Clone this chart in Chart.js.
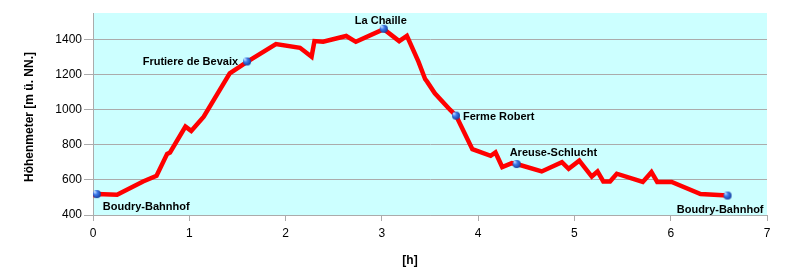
<!DOCTYPE html>
<html>
<head>
<meta charset="utf-8">
<script src="https://cdn.jsdelivr.net/npm/chart.js@4/dist/chart.umd.min.js"></script>
<style>
  html, body { margin: 0; padding: 0; background: #fff; }
  #wrap { width: 787px; height: 278px; }
</style>
</head>
<body>
<div id="wrap"><canvas id="profile"></canvas></div>
<script>
// Höhenprofil Boudry - La Chaille - Areuse-Schlucht - Boudry

const hours = [0, 0.04, 0.25, 0.52, 0.66, 0.77, 0.80, 0.96, 1.02, 1.15, 1.42, 1.60, 1.90, 2.15, 2.27, 2.30, 2.39, 2.63, 2.73, 3.02,
    3.18, 3.26, 3.38, 3.45, 3.47, 3.55, 3.71, 3.77, 3.94, 4.13, 4.18, 4.25, 4.35, 4.40, 4.66, 4.87, 4.94, 5.05, 5.18, 5.24,
    5.30, 5.37, 5.44, 5.71, 5.80, 5.86, 6.01, 6.31, 6.59];
const elevation = [510, 519, 515, 591, 623, 748, 756, 903, 879, 960, 1207, 1272, 1373, 1352, 1301, 1390, 1386, 1419, 1386, 1458,
    1390, 1420, 1273, 1173, 1159, 1093, 998, 966, 775, 737, 756, 673, 695, 690, 648, 701, 663, 709, 619, 648,
    591, 591, 635, 588, 644, 588, 588, 519, 511];

const stopNames = ['Boudry-Bahnhof', 'Frutiere de Bevaix', 'La Chaille', 'Ferme Robert', 'Areuse-Schlucht', 'Boudry-Bahnhof'];
const stopHours = [0.04, 1.60, 3.02, 3.77, 4.40, 6.59];
const stopElevation = [519, 1274, 1460, 966, 690, 511];

const yTicks = [400, 600, 800, 1000, 1200, 1400];
const xTicks = [0, 1, 2, 3, 4, 5, 6, 7];

const xTitle = '[h]';
const yTitle = 'Höhenmeter [m ü. NN.]';

// label placement relative to the marker: [dx, dy, textAlign]
const labelPlace = [[6, 13, 'left'], [-9, 0, 'right'], [-3, -8, 'center'], [7, 1, 'left'], [-7, -11, 'left'], [36, 14, 'right']];

const FONT = "'Liberation Sans', Arial, sans-serif";
const GRID = '#ABABAB';

// blue sphere marker
function sphere(r) {
    const c = document.createElement('canvas');
    c.width = c.height = r * 2 + 2;
    const g = c.getContext('2d');
    const grd = g.createRadialGradient(r * 0.7, r * 0.7, 0.5, r + 1, r + 1, r + 1);
    grd.addColorStop(0, '#B8D4FF');
    grd.addColorStop(0.35, '#3D7BEA');
    grd.addColorStop(1, '#0A2C8C');
    g.fillStyle = grd;
    g.beginPath();
    g.arc(r + 1, r + 1, r, 0, Math.PI * 2);
    g.fill();
    return c;
}

const areaBg = {
    id: 'areaBg',
    beforeDraw(chart) {
        const { ctx, chartArea: a } = chart;
        ctx.save();
        ctx.fillStyle = '#CCFFFF';
        ctx.fillRect(a.left, a.top, a.right - a.left, a.bottom - a.top);
        ctx.restore();
    }
};

const stopLabels = {
    id: 'stopLabels',
    afterDatasetsDraw(chart) {
        const { ctx } = chart;
        const xs = chart.scales.x, ys = chart.scales.y;
        ctx.save();
        ctx.font = 'bold 11px ' + FONT;
        ctx.fillStyle = '#000';
        ctx.textBaseline = 'middle';
        stopNames.forEach((name, i) => {
            const [dx, dy, align] = labelPlace[i];
            ctx.textAlign = align;
            ctx.fillText(name, xs.getPixelForValue(stopHours[i]) + dx, ys.getPixelForValue(stopElevation[i]) + dy);
        });

        // axis titles
        ctx.font = 'bold 12px ' + FONT;
        ctx.textAlign = 'center';
        ctx.fillText(xTitle, 410, 261);
        ctx.translate(30, 117);
        ctx.rotate(-Math.PI / 2);
        ctx.fillText(yTitle, 0, 0);
        ctx.restore();
    }
};

new Chart(document.getElementById('profile').getContext('2d'), {
    type: 'scatter',
    data: {
        datasets: [
            {
                label: 'Stationen',
                data: stopHours.map((h, i) => ({ x: h, y: stopElevation[i] })),
                pointStyle: sphere(4),
                pointRadius: 5,
                showLine: false
            },
            {
                label: 'Höhe',
                data: hours.map((h, i) => ({ x: h, y: elevation[i] })),
                showLine: true,
                borderColor: '#FF0000',
                borderWidth: 4.5,
                borderJoinStyle: 'miter',
                pointRadius: 0,
                tension: 0
            }
        ]
    },
    options: {
        responsive: true,
        maintainAspectRatio: false,
        animation: false,
        layout: { padding: { left: 0, right: 20, top: 13, bottom: 0 } },
        plugins: { legend: { display: false }, tooltip: { enabled: false } },
        scales: {
            x: {
                type: 'linear', min: 0, max: 7,
                afterBuildTicks: s => { s.ticks = xTicks.map(v => ({ value: v })); },
                afterFit: s => { s.height = 63; },
                grid: { drawOnChartArea: false, color: GRID, tickLength: 6 },
                border: { color: GRID },
                ticks: { color: '#000', padding: 5, font: { family: FONT, size: 12 }, callback: v => String(v) }
            },
            y: {
                min: 400, max: 1550,
                afterBuildTicks: s => { s.ticks = yTicks.map(v => ({ value: v })); },
                afterFit: s => { s.width = 93; },
                grid: { color: GRID, tickLength: 9 },
                border: { color: GRID },
                ticks: { color: '#000', padding: 2, font: { family: FONT, size: 12 }, callback: v => String(v) }
            }
        }
    },
    plugins: [areaBg, stopLabels]
});
</script>
</body>
</html>
